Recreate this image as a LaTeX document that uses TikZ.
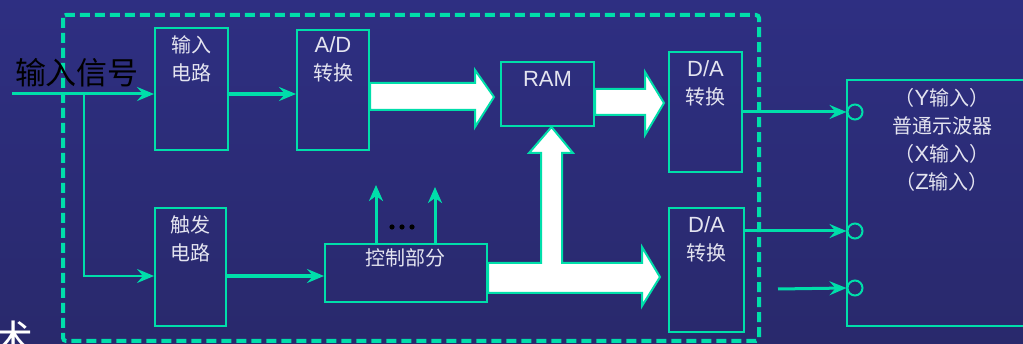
\documentclass[tikz,border=0pt]{standalone}
\usepackage{fontspec}
\setmainfont{Noto Sans CJK SC}
\newfontfamily\lat{Liberation Sans}
\usetikzlibrary{arrows.meta,positioning,calc}
\definecolor{bgtop}{RGB}{46,47,130}
\definecolor{bgbot}{RGB}{41,41,108}
\definecolor{grn}{RGB}{0,222,170}
\definecolor{txtc}{RGB}{228,228,240}
\tikzset{
  blk/.style={draw=grn, line width=2pt, anchor=north west, inner sep=0pt},
  lbl/.style={text=txtc, font=\fontsize{20}{28}\selectfont, align=center, anchor=north, inner sep=0pt},
  sig/.style={draw=grn, line width=3pt, -{Stealth[length=17pt,width=14pt,inset=6pt]}},
  bigarr/.style={fill=white, draw=grn, line width=2pt, line join=miter},
  port/.style={circle, draw=grn, line width=2pt, minimum size=15pt, inner sep=0pt}
}
\begin{document}
\begin{tikzpicture}[x=1pt, y=-1pt]
  \clip (0,0) rectangle (1023,344);
  \shade[top color=bgtop, bottom color=bgbot] (0,0) rectangle (1023,344);
  % frame of the storage unit
  \draw[grn, line width=4pt, dash pattern=on 10pt off 5pt, rounded corners=3pt] (63,15) rectangle (759,341);
  % blocks
  \node[blk, minimum width=73pt, minimum height=122pt] (inp) at (154,27) {};
  \node[blk, minimum width=72pt, minimum height=120pt] (ad) at (296,29) {};
  \node[blk, minimum width=71pt, minimum height=118pt] (trig) at (154,207) {};
  \node[blk, minimum width=162pt, minimum height=58pt] (ctrl) at (324,243) {};
  \node[blk, minimum width=93pt, minimum height=64pt] (ram) at (500,61) {};
  \node[blk, minimum width=73pt, minimum height=120pt] (da1) at (668,51) {};
  \node[blk, minimum width=75pt, minimum height=124pt] (da2) at (668,207) {};
  \node[blk, minimum width=200pt, minimum height=246pt] (osc) at (846,79) {};
  % texts
  \node[lbl] at ($(inp.north)+(0,8)$) {输入\\电路};
  \node[lbl] at ($(ad.north)+(0,7)$) {{\lat\fontsize{22}{28}\selectfont A/D}\\转换};
  \node[lbl] at ($(trig.north)+(0,8)$) {触发\\电路};
  \node[lbl] at ($(ctrl.north)+(-1,5)$) {控制部分};
  \node[lbl] at ($(ram.north)+(0,10)$) {\lat\fontsize{22}{28}\selectfont RAM};
  \node[lbl] at ($(da1.north)+(0,9)$) {{\lat\fontsize{22}{28}\selectfont D/A}\\转换};
  \node[lbl] at ($(da2.north)+(0,9)$) {{\lat\fontsize{22}{28}\selectfont D/A}\\转换};
  \node[lbl] at (942,88) {（{\lat\fontsize{22}{28}\selectfont Y}输入）\\普通示波器\\（{\lat\fontsize{22}{28}\selectfont X}输入）\\（{\lat\fontsize{22}{28}\selectfont Z}输入）};
  \node[font=\fontsize{31}{31}\selectfont, text=black, inner sep=0pt] (insig) at (77,73) {输入信号};
  \node[font=\fontsize{40}{40}\selectfont, text=white, anchor=north, inner sep=0pt] (cut) at (14,321) {术};
  % input and trigger paths
  \coordinate (src) at (12,94);
  \coordinate (br) at (84,94);
  \coordinate (brb) at (84,276);
  \draw[sig] (src) -- (inp.west|-src);
  \draw[grn, line width=2.5pt, -{Stealth[length=17pt,width=14pt,inset=6pt]}] (br) -- (brb) -- (trig.west|-brb);
  \draw[sig, line width=4pt] (inp.east|-src) -- (ad.west|-src);
  \draw[sig, line width=4pt] (trig.east|-brb) -- (ctrl.west|-brb);
  % control outputs
  \draw[sig, -{Stealth[length=16pt,width=14pt,inset=5pt]}] (ctrl.north-|376,0) -- (376,185);
  \draw[sig, -{Stealth[length=16pt,width=14pt,inset=5pt]}] (ctrl.north-|435,0) -- (435,187);
  \foreach \dx in {-10,0,10} \fill (402+\dx,227) circle (2.6);
  % data paths
  \filldraw[bigarr] (ad.east|-0,83) -- (475,83) -- (475,70) -- (494,97) -- (475,127) -- (475,110) -- (ad.east|-0,110) -- cycle;
  \filldraw[bigarr] (ram.east|-0,89) -- (645,89) -- (645,72) -- (664,103) -- (645,135) -- (645,115) -- (ram.east|-0,115) -- cycle;
  \filldraw[bigarr] (ctrl.east|-0,263) -- (541,263) -- (541,153) -- (529,153) -- (551.5,127) -- (573,153) -- (562,153) -- (562,263)
    -- (642,263) -- (642,247) -- (660,277) -- (642,306) -- (642,293) -- (ctrl.east|-0,293) -- cycle;
  % oscilloscope inputs
  \node[port] (c1) at (855,112) {};
  \node[port] (c2) at (855,231) {};
  \node[port] (c3) at (855,288) {};
  \coordinate (zin) at (778,289);
  \draw[sig] (da1.east|-c1) -- (c1.west);
  \draw[sig] (da2.east|-c2) -- (c2.west);
  \draw[sig] (zin) -- (c3.west);
\end{tikzpicture}
\end{document}
